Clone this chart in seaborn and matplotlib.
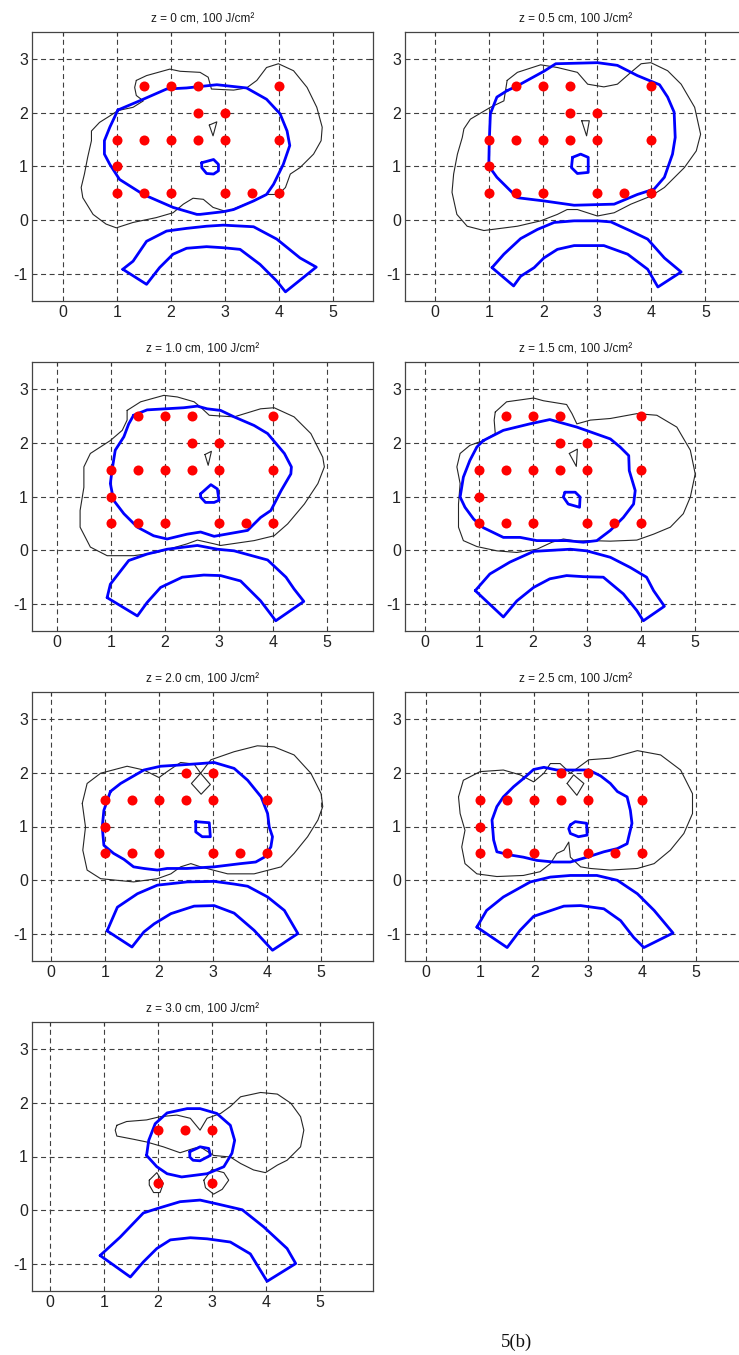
import matplotlib
matplotlib.use("Agg")
import matplotlib.pyplot as plt
import pandas as pd
import seaborn as sns

# ---------------- data ----------------
TITLES = ["z = 0 cm, 100 J/cm²", "z = 0.5 cm, 100 J/cm²", "z = 1.0 cm, 100 J/cm²",
          "z = 1.5 cm, 100 J/cm²", "z = 2.0 cm, 100 J/cm²", "z = 2.5 cm, 100 J/cm²",
          "z = 3.0 cm, 100 J/cm²"]
X_TICKS = [0, 1, 2, 3, 4, 5]
Y_TICKS = [-1, 0, 1, 2, 3]
CAPTION = "5(b)"

# source positions (red dots)
DOTS_FULL_X = [1.5, 2, 2.5, 4, 2.5, 3, 1, 1.5, 2, 2.5, 3, 4, 1, 1, 1.5, 2, 3, 3.5, 4]
DOTS_FULL_Y = [2.5, 2.5, 2.5, 2.5, 2, 2, 1.5, 1.5, 1.5, 1.5, 1.5, 1.5, 1, 0.5, 0.5, 0.5, 0.5, 0.5, 0.5]
DOTS_MID_X = [2.5, 3, 1, 1.5, 2, 2.5, 3, 4, 1, 1, 1.5, 2, 3, 3.5, 4]
DOTS_MID_Y = [2, 2, 1.5, 1.5, 1.5, 1.5, 1.5, 1.5, 1, 0.5, 0.5, 0.5, 0.5, 0.5, 0.5]
DOTS_TOP_X = [2, 2.5, 3, 2, 3]
DOTS_TOP_Y = [1.5, 1.5, 1.5, 0.5, 0.5]

# ---- z = 0 cm ----
Z00_BLUE = [(1.02, 2.05), (1.42, 2.22), (1.92, 2.44), (2.29, 2.46), (2.85, 2.52), (3.40, 2.46),
            (3.77, 2.25), (4.02, 1.98), (4.15, 1.66), (4.20, 1.39), (4.08, 1.04), (3.90, 0.67),
            (3.77, 0.48), (3.53, 0.36), (3.16, 0.20), (2.97, 0.16), (2.54, 0.11), (2.48, 0.11),
            (2.04, 0.24), (1.49, 0.48), (1.05, 0.76), (0.87, 1.04), (0.77, 1.23), (0.77, 1.48),
            (0.87, 1.73), (1.02, 2.05)]
Z00_CORE = [(2.57, 1.07), (2.79, 1.13), (2.88, 1.04), (2.88, 0.92), (2.79, 0.86), (2.66, 0.87),
            (2.57, 0.98), (2.57, 1.07)]
Z00_ARCH = [(1.11, -0.91), (1.30, -0.76), (1.55, -0.39), (1.92, -0.20), (2.29, -0.15), (2.66, -0.11),
            (2.97, -0.09), (3.53, -0.12), (3.96, -0.35), (4.39, -0.70), (4.69, -0.87), (4.12, -1.33),
            (3.96, -1.13), (3.65, -0.82), (3.28, -0.54), (2.97, -0.51), (2.66, -0.49), (2.29, -0.52),
            (2.04, -0.63), (1.79, -0.88), (1.55, -1.19), (1.11, -0.91)]
Z00_BLACK = [(1.36, 2.60), (1.55, 2.69), (1.98, 2.81), (2.17, 2.77), (2.54, 2.75), (2.69, 2.66),
             (2.75, 2.44), (3.16, 2.42), (3.40, 2.46), (3.59, 2.60), (3.77, 2.84), (3.99, 2.91),
             (4.27, 2.78), (4.52, 2.47), (4.70, 2.10), (4.80, 1.73), (4.78, 1.48), (4.64, 1.23),
             (4.39, 0.98), (4.21, 0.86), (4.12, 0.61), (3.99, 0.48), (3.77, 0.48), (3.53, 0.36),
             (3.03, 0.16), (2.78, 0.24), (2.60, 0.39), (2.41, 0.41), (2.23, 0.30), (2.04, 0.14),
             (1.73, 0.05), (1.30, -0.04), (0.99, -0.14), (0.80, -0.07), (0.56, 0.11), (0.37, 0.42),
             (0.34, 0.61), (0.40, 0.86), (0.46, 1.17), (0.53, 1.48), (0.53, 1.66), (0.68, 1.82),
             (0.87, 1.94), (1.02, 2.04), (1.30, 2.10), (1.49, 2.22), (1.36, 2.32), (1.33, 2.47),
             (1.36, 2.60)]
Z00_BLACK_SMALL = [(2.71, 1.77), (2.85, 1.83), (2.78, 1.57), (2.71, 1.77)]

# ---- z = 0.5 cm ----
Z05_BLUE = [(1.33, 2.41), (1.52, 2.50), (2.01, 2.77), (2.23, 2.91), (3.00, 2.93), (3.37, 2.88),
            (3.74, 2.69), (4.15, 2.52), (4.30, 2.29), (4.42, 2.01), (4.44, 1.54), (4.39, 1.23),
            (4.24, 0.80), (4.05, 0.58), (3.74, 0.48), (3.31, 0.30), (2.57, 0.28), (2.01, 0.36),
            (1.52, 0.42), (1.33, 0.61), (1.14, 0.80), (0.99, 1.01), (1.00, 1.48), (1.02, 1.98),
            (1.14, 2.29), (1.33, 2.41)]
Z05_CORE = [(2.54, 1.17), (2.69, 1.23), (2.83, 1.17), (2.83, 0.89), (2.63, 0.87), (2.52, 0.98),
            (2.54, 1.17)]
Z05_ARCH = [(1.05, -0.88), (1.27, -0.63), (1.58, -0.34), (1.89, -0.17), (2.20, -0.04), (2.57, -0.01),
            (3.00, -0.01), (3.25, -0.03), (3.62, -0.20), (3.93, -0.35), (4.24, -0.70), (4.55, -0.96),
            (4.12, -1.24), (3.93, -0.91), (3.56, -0.63), (3.12, -0.47), (2.57, -0.47), (2.26, -0.54),
            (2.01, -0.70), (1.83, -0.88), (1.58, -1.04), (1.45, -1.22), (1.05, -0.88)]
Z05_BLACK = [(1.33, 2.60), (1.52, 2.75), (1.95, 2.89), (2.26, 2.84), (2.63, 2.75), (2.82, 2.53),
             (3.12, 2.48), (3.37, 2.53), (3.62, 2.75), (3.81, 2.91), (3.99, 2.93), (4.30, 2.78),
             (4.55, 2.53), (4.80, 2.10), (4.91, 1.60), (4.83, 1.29), (4.61, 0.98), (4.24, 0.61),
             (3.99, 0.45), (3.62, 0.30), (3.31, 0.14), (3.00, 0.08), (2.63, 0.20), (2.44, 0.20),
             (2.26, 0.11), (1.95, -0.01), (1.52, -0.11), (0.90, -0.19), (0.59, -0.11), (0.40, 0.11),
             (0.31, 0.52), (0.34, 0.86), (0.41, 1.23), (0.50, 1.54), (0.53, 1.70), (0.65, 1.88),
             (1.02, 2.10), (1.27, 2.22), (1.30, 2.41), (1.33, 2.60)]
Z05_BLACK_SMALL = [(2.71, 1.85), (2.85, 1.85), (2.80, 1.57), (2.71, 1.85)]

# ---- z = 1.0 cm ----
Z10_BLUE = [(1.42, 2.51), (1.67, 2.61), (2.35, 2.65), (2.60, 2.68), (2.78, 2.63), (3.03, 2.60),
            (3.28, 2.48), (3.65, 2.32), (3.90, 2.17), (4.21, 1.80), (4.34, 1.55), (4.33, 1.42),
            (4.15, 1.11), (3.96, 0.74), (3.77, 0.61), (3.53, 0.37), (2.91, 0.26), (2.66, 0.34),
            (2.41, 0.30), (2.04, 0.21), (1.79, 0.27), (1.49, 0.43), (1.24, 0.68), (1.05, 0.93),
            (0.99, 1.24), (1.02, 1.48), (1.08, 1.86), (1.24, 2.11), (1.33, 2.35), (1.42, 2.51)]
Z10_CORE = [(2.66, 1.05), (2.85, 1.22), (2.97, 1.14), (3.00, 0.93), (2.91, 0.89), (2.75, 0.89),
            (2.66, 0.99), (2.66, 1.05)]
Z10_ARCH = [(0.93, -0.88), (0.99, -0.63), (1.33, -0.19), (1.67, -0.07), (2.04, 0.02), (2.60, 0.09),
            (2.97, 0.02), (3.28, -0.01), (3.90, -0.18), (4.24, -0.50), (4.39, -0.72), (4.57, -0.95),
            (4.05, -1.31), (3.77, -0.94), (3.40, -0.57), (3.03, -0.47), (2.72, -0.46), (2.32, -0.50),
            (1.92, -0.69), (1.67, -0.97), (1.49, -1.22), (0.93, -0.88)]
Z10_BLACK = [(1.30, 2.60), (1.55, 2.76), (1.98, 2.88), (2.23, 2.85), (2.54, 2.76), (2.66, 2.66),
             (2.82, 2.51), (3.28, 2.48), (3.77, 2.63), (4.02, 2.65), (4.39, 2.48), (4.70, 2.17),
             (4.92, 1.73), (4.95, 1.55), (4.83, 1.24), (4.58, 0.86), (4.27, 0.49), (4.02, 0.27),
             (3.65, 0.18), (3.03, 0.09), (2.91, 0.12), (2.60, 0.19), (2.41, 0.12), (1.86, -0.04),
             (1.42, -0.10), (0.93, -0.10), (0.62, 0.06), (0.43, 0.43), (0.43, 0.74), (0.50, 1.17),
             (0.50, 1.55), (0.62, 1.80), (0.99, 2.04), (1.21, 2.23), (1.30, 2.42), (1.30, 2.60)]
Z10_BLACK_SMALL = [(2.74, 1.78), (2.86, 1.84), (2.80, 1.58), (2.74, 1.78)]

# ---- z = 1.5 cm ----
Z15_BLUE = [(1.08, 2.04), (1.45, 2.23), (1.94, 2.35), (2.31, 2.43), (2.81, 2.29), (3.43, 2.07),
            (3.61, 1.92), (3.77, 1.76), (3.78, 1.48), (3.89, 1.11), (3.86, 0.86), (3.67, 0.61),
            (3.43, 0.37), (3.18, 0.18), (2.93, 0.15), (2.62, 0.18), (2.07, 0.18), (1.76, 0.24),
            (1.45, 0.24), (1.08, 0.42), (0.90, 0.58), (0.74, 0.80), (0.65, 0.99), (0.71, 1.36),
            (0.83, 1.67), (0.96, 1.92), (1.08, 2.04)]
Z15_CORE = [(2.59, 1.08), (2.78, 1.08), (2.87, 0.99), (2.86, 0.80), (2.65, 0.86), (2.56, 0.99),
            (2.59, 1.08)]
Z15_ARCH = [(0.93, -0.75), (1.20, -0.44), (1.57, -0.22), (2.01, -0.02), (2.69, 0.02), (2.99, -0.01),
            (3.43, -0.13), (3.80, -0.32), (4.10, -0.50), (4.23, -0.75), (4.43, -1.04), (4.04, -1.31),
            (3.92, -1.12), (3.67, -0.81), (3.30, -0.50), (2.93, -0.49), (2.62, -0.47), (2.31, -0.53),
            (2.01, -0.69), (1.70, -0.94), (1.45, -1.24), (0.93, -0.75)]
Z15_BLACK = [(1.30, 2.57), (1.51, 2.76), (2.01, 2.83), (2.19, 2.78), (2.62, 2.71), (2.72, 2.54),
             (2.81, 2.35), (3.06, 2.42), (3.43, 2.45), (3.92, 2.54), (4.29, 2.51), (4.66, 2.29),
             (4.91, 1.86), (5.00, 1.42), (4.91, 0.99), (4.78, 0.68), (4.54, 0.43), (4.23, 0.30),
             (3.92, 0.19), (3.43, 0.17), (3.06, 0.18), (2.81, 0.17), (2.56, 0.21), (2.35, 0.15),
             (2.07, 0.02), (1.70, -0.04), (1.33, -0.01), (0.96, 0.07), (0.71, 0.18), (0.62, 0.43),
             (0.62, 0.86), (0.65, 1.24), (0.59, 1.55), (0.65, 1.80), (0.83, 1.95), (1.08, 2.04),
             (1.30, 2.17), (1.28, 2.42), (1.30, 2.57)]
Z15_BLACK_SMALL = [(2.67, 1.80), (2.82, 1.88), (2.80, 1.56), (2.67, 1.80)]

# ---- z = 2.0 cm ----
Z20_BLUE = [(1.10, 1.65), (1.29, 1.80), (1.72, 2.05), (2.03, 2.12), (2.34, 2.14), (2.77, 2.17),
            (3.02, 2.19), (3.39, 2.08), (3.64, 1.86), (3.89, 1.55), (4.01, 1.24), (4.04, 0.99),
            (4.10, 0.81), (4.07, 0.62), (3.95, 0.43), (3.79, 0.34), (3.51, 0.31), (3.02, 0.25),
            (2.52, 0.22), (2.15, 0.22), (1.97, 0.19), (1.72, 0.22), (1.53, 0.25), (1.35, 0.39),
            (1.16, 0.50), (0.98, 0.65), (0.95, 0.99), (0.98, 1.30), (1.10, 1.65)]
Z20_CORE = [(2.68, 1.09), (2.93, 1.07), (2.95, 0.81), (2.80, 0.81), (2.68, 0.90), (2.68, 1.09)]
Z20_ARCH = [(1.04, -0.94), (1.23, -0.50), (1.60, -0.25), (1.97, -0.09), (2.52, -0.03), (3.02, -0.02),
            (3.39, -0.07), (3.64, -0.11), (4.01, -0.31), (4.32, -0.56), (4.57, -0.99), (4.10, -1.30),
            (3.76, -0.93), (3.39, -0.61), (3.02, -0.47), (2.65, -0.48), (2.22, -0.62), (1.91, -0.81),
            (1.72, -0.96), (1.50, -1.24), (1.04, -0.94)]
Z20_BLACK = [(0.58, 1.43), (0.67, 1.80), (0.92, 1.99), (1.41, 2.12), (1.72, 2.05), (2.00, 1.91),
             (2.15, 2.02), (2.40, 2.19), (2.65, 2.16), (2.77, 1.99), (2.96, 2.24), (3.39, 2.39),
             (3.82, 2.50), (4.13, 2.48), (4.50, 2.33), (4.81, 1.99), (5.00, 1.61), (5.03, 1.37),
             (4.94, 1.12), (4.75, 0.81), (4.50, 0.50), (4.26, 0.25), (3.76, 0.12), (3.27, 0.12),
             (2.77, 0.25), (2.59, 0.31), (2.40, 0.25), (2.22, 0.12), (1.97, 0.03), (1.53, -0.03),
             (0.92, 0.03), (0.67, 0.19), (0.59, 0.56), (0.64, 0.99), (0.58, 1.43)]
Z20_BLACK_SMALL = [(2.77, 1.99), (2.60, 1.80), (2.78, 1.60), (2.95, 1.78), (2.77, 1.99)]

# ---- z = 2.5 cm ----
Z25_BLUE = [(1.80, 1.89), (1.99, 2.06), (2.18, 2.10), (2.42, 2.05), (2.67, 2.05), (3.01, 2.05),
            (3.23, 1.94), (3.41, 1.80), (3.54, 1.65), (3.72, 1.55), (3.78, 1.30), (3.81, 1.06),
            (3.75, 0.81), (3.72, 0.68), (3.54, 0.59), (3.29, 0.53), (2.98, 0.43), (2.67, 0.34),
            (2.36, 0.34), (2.05, 0.37), (1.80, 0.43), (1.56, 0.47), (1.31, 0.53), (1.25, 0.75),
            (1.22, 1.12), (1.31, 1.37), (1.43, 1.55), (1.62, 1.74), (1.80, 1.89)]
Z25_CORE = [(2.67, 1.03), (2.76, 1.09), (2.97, 1.06), (2.98, 0.84), (2.82, 0.81), (2.67, 0.87),
            (2.64, 0.96), (2.67, 1.03)]
Z25_ARCH = [(0.94, -0.87), (1.12, -0.56), (1.43, -0.31), (1.93, -0.03), (2.30, 0.06), (2.67, 0.09),
            (3.16, 0.09), (3.54, 0.00), (3.91, -0.25), (4.22, -0.56), (4.57, -0.98), (4.03, -1.25),
            (3.84, -1.06), (3.60, -0.75), (3.29, -0.53), (2.86, -0.47), (2.55, -0.48), (1.99, -0.67),
            (1.74, -0.93), (1.50, -1.25), (0.94, -0.87)]
Z25_BLACK = [(0.60, 1.55), (0.69, 1.86), (1.00, 2.02), (1.43, 2.05), (1.74, 1.96), (1.99, 1.83),
             (2.18, 1.99), (2.30, 2.17), (2.48, 2.17), (2.67, 1.99), (3.01, 2.24), (3.41, 2.27),
             (3.91, 2.41), (4.34, 2.33), (4.71, 2.05), (4.93, 1.61), (4.93, 1.24), (4.77, 0.87),
             (4.52, 0.56), (4.22, 0.31), (3.91, 0.22), (3.41, 0.19), (3.04, 0.22), (2.86, 0.25),
             (2.67, 0.43), (2.64, 0.71), (2.55, 0.56), (2.42, 0.50), (2.30, 0.31), (2.11, 0.16),
             (1.80, 0.09), (1.31, 0.07), (0.94, 0.12), (0.72, 0.31), (0.66, 0.62), (0.72, 0.93),
             (0.63, 1.24), (0.60, 1.55)]
Z25_BLACK_SMALL = [(2.61, 1.80), (2.73, 1.96), (2.92, 1.80), (2.79, 1.58), (2.61, 1.80)]

# ---- z = 3.0 cm ----
Z30_BLUE = [(1.79, 1.02), (1.83, 1.30), (1.95, 1.61), (2.17, 1.81), (2.54, 1.89), (2.78, 1.89),
            (3.09, 1.80), (3.34, 1.58), (3.42, 1.30), (3.37, 1.06), (3.22, 0.81), (2.91, 0.68),
            (2.44, 0.62), (2.17, 0.68), (1.98, 0.81), (1.79, 1.02)]
Z30_CORE = [(2.59, 1.09), (2.72, 1.15), (2.78, 1.18), (2.94, 1.15), (2.97, 1.02), (2.78, 0.92),
            (2.65, 0.93), (2.59, 0.99), (2.59, 1.09)]
Z30_ARCH = [(0.93, -0.84), (1.30, -0.50), (1.73, -0.05), (1.98, 0.03), (2.41, 0.16), (2.78, 0.19),
            (3.09, 0.12), (3.56, 0.01), (3.96, -0.31), (4.39, -0.71), (4.55, -0.99), (4.02, -1.32),
            (3.71, -0.81), (3.34, -0.59), (2.91, -0.53), (2.60, -0.51), (2.23, -0.55), (1.98, -0.71),
            (1.73, -0.96), (1.49, -1.24), (0.93, -0.84)]
Z30_BLACK = [(1.24, 1.58), (1.42, 1.65), (1.79, 1.68), (2.04, 1.74), (2.35, 1.77), (2.60, 1.71),
             (2.78, 1.49), (2.91, 1.71), (3.16, 1.80), (3.34, 1.93), (3.53, 2.11), (3.90, 2.19),
             (4.21, 2.16), (4.46, 1.99), (4.64, 1.74), (4.70, 1.49), (4.64, 1.18), (4.39, 0.93),
             (4.21, 0.84), (3.99, 0.70), (3.77, 0.75), (3.53, 0.87), (3.34, 0.99), (3.03, 1.02),
             (2.78, 1.18), (2.66, 1.15), (2.41, 1.07), (2.10, 1.18), (1.79, 1.27), (1.55, 1.32),
             (1.24, 1.38), (1.21, 1.49), (1.24, 1.58)]
Z30_BLACK_LEFT = [(1.84, 0.56), (1.98, 0.70), (2.10, 0.50), (2.04, 0.33), (1.92, 0.33), (1.84, 0.47),
                  (1.84, 0.56)]
Z30_BLACK_RIGHT = [(2.85, 0.56), (3.00, 0.76), (3.22, 0.70), (3.31, 0.56), (3.19, 0.39), (3.03, 0.30),
                   (2.88, 0.42), (2.85, 0.56)]

PANELS = [
    dict(blue=[Z00_BLUE, Z00_CORE, Z00_ARCH], black=[Z00_BLACK, Z00_BLACK_SMALL], dx=DOTS_FULL_X, dy=DOTS_FULL_Y),
    dict(blue=[Z05_BLUE, Z05_CORE, Z05_ARCH], black=[Z05_BLACK, Z05_BLACK_SMALL], dx=DOTS_FULL_X, dy=DOTS_FULL_Y),
    dict(blue=[Z10_BLUE, Z10_CORE, Z10_ARCH], black=[Z10_BLACK, Z10_BLACK_SMALL], dx=DOTS_FULL_X, dy=DOTS_FULL_Y),
    dict(blue=[Z15_BLUE, Z15_CORE, Z15_ARCH], black=[Z15_BLACK, Z15_BLACK_SMALL], dx=DOTS_FULL_X, dy=DOTS_FULL_Y),
    dict(blue=[Z20_BLUE, Z20_CORE, Z20_ARCH], black=[Z20_BLACK, Z20_BLACK_SMALL], dx=DOTS_MID_X, dy=DOTS_MID_Y),
    dict(blue=[Z25_BLUE, Z25_CORE, Z25_ARCH], black=[Z25_BLACK, Z25_BLACK_SMALL], dx=DOTS_MID_X, dy=DOTS_MID_Y),
    dict(blue=[Z30_BLUE, Z30_CORE, Z30_ARCH], black=[Z30_BLACK, Z30_BLACK_LEFT, Z30_BLACK_RIGHT],
         dx=DOTS_TOP_X, dy=DOTS_TOP_Y),
]

# ---------------- layout / style ----------------
W, H = 739, 1355
COL_LEFT_PX = [32, 405]
ROW_TOP_PX = [32, 362, 692, 1022]
AX_W_PX, AX_H_PX = 341, 269
XLIMS = [(-0.57, 5.74), (-0.56, 5.75), (-0.46, 5.85), (-0.37, 5.94),
         (-0.35, 5.96), (-0.39, 5.92), (-0.33, 5.98)]
YLIM = (-1.5, 3.5)

sns.set_theme(style="white")
plt.rcParams["font.family"] = ["Liberation Sans", "DejaVu Sans"]

fig = plt.figure(figsize=(W / 100, H / 100), dpi=100)
fig.patch.set_facecolor("white")


def draw_path(ax, pts, color, lw, z):
    df = pd.DataFrame(pts, columns=["x", "y"])
    sns.lineplot(data=df, x="x", y="y", sort=False, estimator=None, color=color,
                 linewidth=lw, ax=ax, zorder=z, legend=False)


for i, panel in enumerate(PANELS):
    r, c = divmod(i, 2)
    left = COL_LEFT_PX[c] / W
    bottom = (H - ROW_TOP_PX[r] - AX_H_PX) / H
    ax = fig.add_axes([left, bottom, AX_W_PX / W, AX_H_PX / H])
    ax.set_facecolor("white")

    for pts in panel["black"]:
        draw_path(ax, pts, "#262626", 0.8, 3)
    for pts in panel["blue"]:
        draw_path(ax, pts, "#0000ff", 2.0, 4)
    sns.scatterplot(x=panel["dx"], y=panel["dy"], ax=ax, color="#ff0000", s=52,
                    linewidth=0, zorder=5, legend=False)

    ax.set_xlim(*XLIMS[i])
    ax.set_ylim(*YLIM)
    ax.set_xticks(X_TICKS)
    ax.set_yticks(Y_TICKS)
    ax.set_xticklabels([str(t) for t in X_TICKS])
    ax.set_yticklabels([str(t) for t in Y_TICKS])
    ax.set_xlabel("")
    ax.set_ylabel("")
    ax.grid(True, color="#404040", linestyle=(0, (4.5, 3.2)), linewidth=0.8, zorder=1)
    ax.set_axisbelow(True)
    ax.tick_params(axis="both", direction="in", length=3, width=0.8, color="#333333",
                   labelsize=11.5, labelcolor="#222222", pad=3,
                   top=True, right=True)
    for sp in ax.spines.values():
        sp.set_color("#444444")
        sp.set_linewidth(0.9)
        sp.set_visible(True)
    ax.set_title(TITLES[i], fontsize=8.5, color="#1a1a1a", pad=7)

fig.text(516 / W, 1 - 1342 / H, CAPTION, ha="center", va="center", fontsize=13.5,
         family=["Liberation Serif", "DejaVu Serif"], color="#111111")

fig.savefig("out.png", dpi=100, facecolor="white")
